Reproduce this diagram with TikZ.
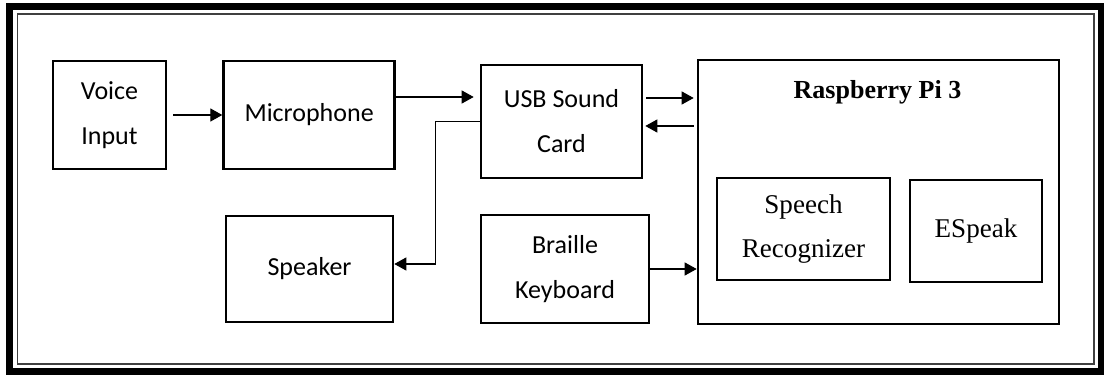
\documentclass[tikz,border=0pt]{standalone}
\usepackage{fontspec}
\setmainfont{Liberation Serif}
\newfontfamily\calibri{Carlito}
\usetikzlibrary{arrows.meta,positioning}
\tikzset{
  blokk/.style={draw,line width=1.5pt,align=center,inner sep=2pt,
                font=\calibri\fontsize{14.8}{25.6}\selectfont},
  modul/.style={draw,line width=1.5pt,align=center,inner sep=2pt,
                font=\fontsize{15.4}{24.8}\selectfont},
  vonal/.style={-{Triangle[length=0.24cm,width=0.26cm]},line width=0.7pt},
  keret/.style={line width=0.14cm},
}
\begin{document}
\begin{tikzpicture}
  \useasboundingbox (0,0) rectangle (22.08,7.5);
  % frame
  \draw[keret] (0.2,0.08) rectangle (22.02,7.37);
  \draw[line width=0.8pt,black!75] (0.35,0.22) rectangle (21.88,7.22);
  % blocks
  \node[blokk,minimum width=2.26cm,minimum height=2.16cm] (voice) at (2.19,5.2) {Voice\\Input};
  \node[blokk,minimum width=3.42cm,minimum height=2.16cm,right=1.1cm of voice] (mic) {Microphone};
  \node[blokk,minimum width=3.22cm,minimum height=2.26cm] (usb) at (11.23,5.07) {USB Sound\\Card};
  \node[blokk,minimum width=3.34cm,minimum height=2.12cm] (spk) at (6.19,2.12) {Speaker};
  \node[blokk,minimum width=3.36cm,minimum height=2.16cm] (braille) at (11.3,2.12) {Braille\\Keyboard};
  \node[draw,line width=1.5pt,minimum width=7.22cm,minimum height=5.28cm] (rpi) at (17.57,3.66) {};
  \node[font=\bfseries\fontsize{14.8}{18}\selectfont] (rpititle) at (17.55,5.66) {Raspberry Pi 3};
  \node[modul,minimum width=3.46cm,minimum height=2.04cm] (speech) at (16.07,2.92) {Speech\\Recognizer};
  \node[modul,minimum width=2.64cm,minimum height=2.04cm] (espeak) at (19.52,2.88) {ESpeak};
  % connectors
  \coordinate (micout) at ([yshift=0.36cm]mic.east);
  \coordinate (usbout) at ([yshift=0.47cm]usb.east);
  \coordinate (usbin) at ([yshift=-0.09cm]usb.east);
  \coordinate (spkin) at ([yshift=0.1cm]spk.east);
  \draw[vonal,shorten <=0.12cm] (voice) -- (mic);
  \draw[vonal,shorten >=0.12cm] (micout) -- (micout -| usb.west);
  \draw[vonal,shorten <=0.06cm,shorten >=0.06cm] (usbout) -- (usbout -| rpi.west);
  \draw[vonal,shorten <=0.06cm,shorten >=0.04cm] (usbin -| rpi.west) -- (usbin);
  \draw[vonal] (usb.west) -- ++(-0.88,0) |- (spkin);
  \draw[vonal] (braille) -- (braille -| rpi.west);
\end{tikzpicture}
\end{document}
